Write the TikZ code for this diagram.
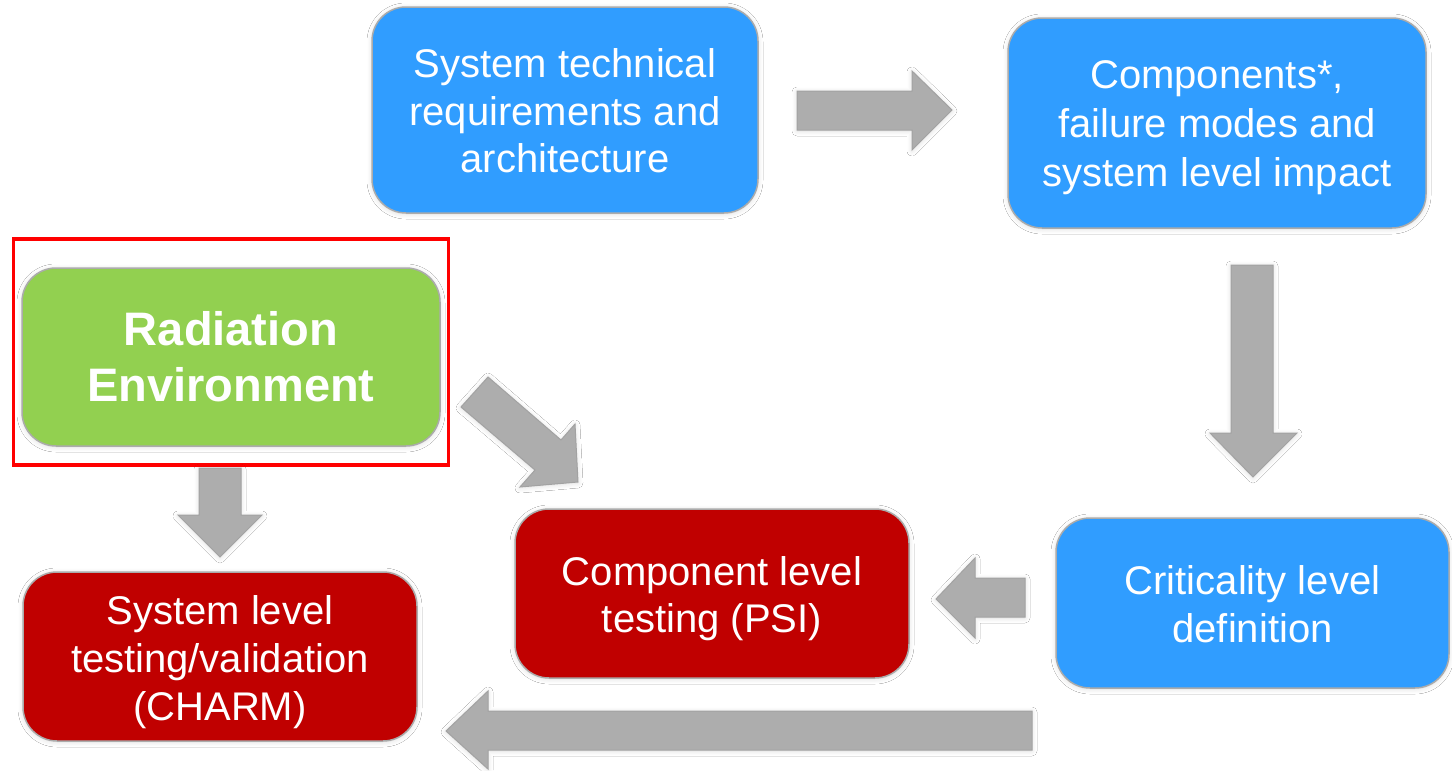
\documentclass[tikz,border=0pt]{standalone}
\usepackage{fontspec}
\setmainfont{Liberation Sans}
\usetikzlibrary{shadows.blur}
\definecolor{boxblue}{HTML}{309DFF}
\definecolor{boxgreen}{HTML}{92D050}
\definecolor{boxred}{HTML}{C00000}
\definecolor{arrowgray}{HTML}{ADADAD}
\definecolor{arrowedge}{HTML}{A2A2A2}
\definecolor{boxedge}{HTML}{ABABAB}
\begin{document}
\begin{tikzpicture}[x=1pt,y=-1pt,
  softshadow/.style={blur shadow={shadow blur steps=6, shadow xshift=0pt, shadow yshift=-1pt, shadow blur radius=5pt, shadow opacity=14}},
  box/.style={rectangle, rounded corners=34pt, draw=boxedge, line width=1.5pt, inner sep=0pt, softshadow},
  bluebox/.style={box, fill=boxblue},
  redbox/.style={box, fill=boxred},
  greenbox/.style={box, fill=boxgreen},
  boxtext/.style={text=white, align=center, inner sep=0pt, font=\fontsize{40}{47.5}\selectfont},
  boldtext/.style={boxtext, font=\bfseries\fontsize{47}{56}\selectfont},
  blockarrow/.style={fill=arrowgray, draw=arrowedge, line width=1pt, line join=miter, softshadow},
  highlight/.style={draw=red, line width=3.5pt, rectangle, inner sep=0pt}
]
\fill[white] (0,0) rectangle (1452,771);
\useasboundingbox (0,0) rectangle (1452,771);

% boxes
\node[bluebox, minimum width=386pt, minimum height=206pt] (req) at (565,110) {};
\node[boxtext] (reqtext) at ([yshift=-1pt]req.center)
  {System technical\\requirements and\\architecture};
\node[bluebox, minimum width=418pt, minimum height=210pt] (comp) at (1217,123) {};
\node[boxtext, font=\fontsize{40}{49}\selectfont] (comptext) at ([yshift=-5pt]comp.center)
  {Components*,\\failure modes and\\system level impact};
\node[greenbox, minimum width=418pt, minimum height=178pt] (rad) at (231,357) {};
\node[boldtext] (radtext) at ([yshift=0pt]rad.center)
  {Radiation\\Environment};
\node[bluebox, minimum width=393pt, minimum height=170pt] (crit) at (1252.5,603) {};
\node[boxtext] (crittext) at ([yshift=-1pt]crit.center)
  {Criticality level\\definition};
\node[redbox, minimum width=394pt, minimum height=169pt] (cltest) at (712,593.5) {};
\node[boxtext] (cltesttext) at ([yshift=-5pt]cltest.center)
  {Component level\\testing (PSI)};
\node[redbox, minimum width=394pt, minimum height=169pt] (sltest) at (220,656.5) {};
\node[boxtext, font=\fontsize{40}{48}\selectfont] (sltesttext) at ([yshift=-6pt]sltest.center)
  {System level\\testing/validation\\(CHARM)};

% highlight frame
\node[highlight, minimum width=435pt, minimum height=226pt] (hl) at (231,352) {};

% block arrows
\draw[blockarrow] (797,91) -- (912,91) -- (912,71) -- (952,110) -- (912,150) -- (912,130) -- (797,130) -- cycle;
\draw[blockarrow] (1231,265) -- (1273,265) -- (1273,433) -- (1297,433) -- (1253,477) -- (1210,433) -- (1231,433) -- cycle;
\draw[blockarrow] (1025,578) -- (975,578) -- (975,558) -- (936,599) -- (975,638) -- (975,617) -- (1025,617) -- cycle;
\draw[blockarrow] (1032,711) -- (488,711) -- (488,691) -- (446,731) -- (488,769) -- (488,750) -- (1032,750) -- cycle;
\draw[blockarrow] (199,468) -- (241,468) -- (241,515) -- (262,515) -- (220,557) -- (178,515) -- (199,515) -- cycle;
\draw[blockarrow] (461,407) -- (488,377) -- (561,440) -- (575,424) -- (578,482) -- (520,487) -- (535,470) -- cycle;
\end{tikzpicture}
\end{document}
